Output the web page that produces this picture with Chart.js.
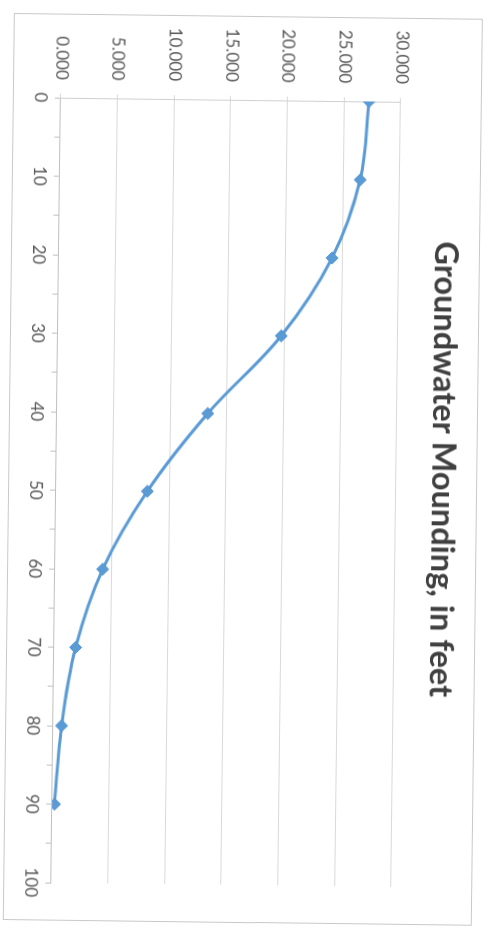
<!DOCTYPE html>
<html>
<head>
<meta charset="utf-8">
<script src="https://cdn.jsdelivr.net/npm/chart.js@4/dist/chart.umd.min.js"></script>
<style>
  html, body { margin: 0; padding: 0; background: #ffffff; overflow: hidden; }
  body { width: 491px; height: 930px; position: relative; }
  #rot {
    position: absolute; left: 0; top: 0;
    width: 930px; height: 491px;
    transform-origin: 0 0;
    transform: translate(496px, 5px) rotate(90.7deg);
  }
  #frame {
    position: absolute; left: 14px; top: 13px; width: 905px; height: 467px;
    border: 1px solid #c9c9c9;
  }
  canvas { position: absolute; left: 0; top: 0; }
</style>
</head>
<body>
<div id="rot">
  <div id="frame"></div>
  <canvas id="c" width="930" height="491"></canvas>
</div>
<script>
const title = 'Groundwater Mounding, in feet';
const distances = [0, 10, 20, 30, 40, 50, 60, 70, 80, 90];
const mounding = [27.2, 26.5, 24.1, 19.7, 13.3, 8.05, 4.2, 1.9, 0.74, 0.2];
const xTicks = [0, 10, 20, 30, 40, 50, 60, 70, 80, 90, 100];
const yTicks = [0, 5, 10, 15, 20, 25, 30];

const labelFont = { family: 'Lato, "Open Sans", sans-serif', size: 17 };

new Chart(document.getElementById('c'), {
  type: 'line',
  data: {
    datasets: [{
      label: 'Mounding',
      data: distances.map((d, i) => ({ x: d, y: mounding[i] })),
      borderColor: '#5b9bd5',
      backgroundColor: '#5b9bd5',
      borderWidth: 3,
      pointStyle: 'rectRot',
      pointRadius: 6,
      pointBorderWidth: 1,
      pointBorderColor: '#4f93cf',
      pointBackgroundColor: '#5b9bd5',
      tension: 0.35,
      fill: false
    }]
  },
  options: {
    responsive: false,
    devicePixelRatio: 1,
    animation: false,
    layout: { padding: { left: 0, right: 0, top: 0, bottom: 0 } },
    plugins: {
      legend: { display: false },
      tooltip: { enabled: false },
      title: {
        display: true,
        text: title,
        color: '#404040',
        font: { family: 'Lato, "Open Sans", sans-serif', size: 32.5, weight: 'bold', lineHeight: 1.2 },
        padding: { top: 28, bottom: 27 },
        fullSize: true
      }
    },
    scales: {
      x: {
        type: 'linear',
        min: xTicks[0],
        max: xTicks[xTicks.length - 1],
        afterBuildTicks: s => { s.ticks = []; for (let v = xTicks[0]; v <= xTicks[xTicks.length - 1]; v += 5) s.ticks.push({ value: v }); },
        afterFit: s => { s.height = 57; },
        ticks: {
          font: labelFont,
          color: '#595959',
          padding: 4,
          maxRotation: 0,
          autoSkip: false,
          callback: v => (xTicks.includes(v) ? String(v) : '')
        },
        grid: { drawOnChartArea: false, drawTicks: true, tickLength: 6, color: '#bfbfbf' },
        border: { display: true, color: '#bfbfbf', width: 1 }
      },
      y: {
        type: 'linear',
        min: yTicks[0],
        max: yTicks[yTicks.length - 1],
        afterBuildTicks: s => { s.ticks = yTicks.map(v => ({ value: v })); },
        afterFit: s => { s.width = 98; },
        ticks: {
          font: labelFont,
          color: '#595959',
          padding: 14,
          callback: v => v.toFixed(3)
        },
        grid: { color: '#d9d9d9', tickLength: 4, lineWidth: 1 },
        border: { display: true, color: '#d0d0d0' }
      },
      pad: {
        type: 'linear',
        position: 'right',
        display: true,
        afterFit: s => { s.width = 47; },
        ticks: { display: false },
        grid: { display: false },
        border: { display: false }
      }
    }
  }
});
</script>
</body>
</html>
